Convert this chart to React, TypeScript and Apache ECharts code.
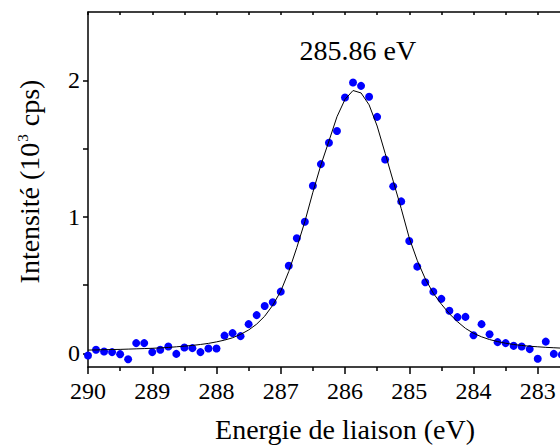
import React, { useEffect, useRef } from "react";
import * as echarts from "echarts";

const energies = [
  290, 289.875, 289.75, 289.625, 289.5, 289.375, 289.25, 289.125, 289, 288.875,
  288.75, 288.625, 288.5, 288.375, 288.25, 288.125, 288, 287.875, 287.75, 287.625,
  287.5, 287.375, 287.25, 287.125, 287, 286.875, 286.75, 286.625, 286.5, 286.375,
  286.25, 286.125, 286, 285.875, 285.75, 285.625, 285.5, 285.375, 285.25, 285.125,
  285, 284.875, 284.75, 284.625, 284.5, 284.375, 284.25, 284.125, 284, 283.875,
  283.75, 283.625, 283.5, 283.375, 283.25, 283.125, 283, 282.875, 282.75, 282.625,
];

const measured = [
  -0.016, 0.026, 0.013, 0.009, -0.006, -0.043, 0.075, 0.075, 0.009, 0.026,
  0.05, -0.004, 0.043, 0.038, 0.009, 0.035, 0.035, 0.13, 0.148, 0.126,
  0.214, 0.28, 0.347, 0.374, 0.452, 0.642, 0.843, 0.964, 1.228, 1.386,
  1.542, 1.628, 1.874, 1.984, 1.959, 1.879, 1.732, 1.42, 1.223, 1.113,
  0.823, 0.635, 0.521, 0.452, 0.399, 0.312, 0.265, 0.267, 0.133, 0.214,
  0.14, 0.082, 0.075, 0.055, 0.05, 0.031, -0.04, 0.086, -0.004, -0.01,
];

const fitted = [
  0.024, 0.025, 0.027, 0.028, 0.029, 0.031, 0.033, 0.035, 0.037, 0.04,
  0.043, 0.048, 0.053, 0.058, 0.065, 0.073, 0.084, 0.097, 0.114, 0.139,
  0.171, 0.214, 0.272, 0.352, 0.455, 0.6, 0.775, 0.965, 1.18, 1.38,
  1.555, 1.733, 1.86, 1.925, 1.907, 1.82, 1.665, 1.465, 1.262, 1.06,
  0.845, 0.68, 0.545, 0.44, 0.36, 0.29, 0.232, 0.183, 0.147, 0.121,
  0.101, 0.086, 0.074, 0.065, 0.058, 0.052, 0.048, 0.044, 0.041, 0.038,
];

const hiddenXLabel = 282;
const yLabelValues = [0, 1, 2];
const yTickValues = [0, 0.5, 1, 1.5, 2];
const peakLabel = "285.86 eV";
const peakLabelPos = [285.8, 2.22];

const FONT = "Liberation Serif";

export default function App() {
  const ref = useRef<HTMLDivElement>(null);
  useEffect(() => {
    document.body.style.margin = "0";
    if (!ref.current) return;
    const chart = echarts.init(ref.current, undefined, { renderer: "svg" });
    const axisLineStyle = { color: "#000", width: 1.5 };
    chart.setOption({
      animation: false,
      backgroundColor: "#fff",
      textStyle: { fontFamily: FONT },
      grid: { left: 88, top: 12, width: 514, height: 355, outerBoundsMode: "none", containLabel: false },
      xAxis: [
        {
          type: "value",
          inverse: true,
          min: 282,
          max: 290,
          interval: 1,
          position: "bottom",
          axisLine: { show: true, onZero: false, lineStyle: axisLineStyle },
          axisTick: { show: true, inside: false, length: 7, lineStyle: { color: "#000", width: 1.5 } },
          minorTick: { show: true, splitNumber: 2, length: 4, lineStyle: { color: "#000", width: 1.5 } },
          splitLine: { show: false },
          axisLabel: {
            color: "#000",
            fontFamily: FONT,
            fontSize: 24,
            margin: 12,
            formatter: (v: number) => (v === hiddenXLabel ? "" : String(v)),
          },
          name: "Energie de liaison (eV)",
          nameLocation: "middle",
          nameGap: 48,
          nameTextStyle: { color: "#000", fontFamily: FONT, fontSize: 28 },
        },
        {
          type: "value",
          inverse: true,
          min: 282,
          max: 290,
          interval: 0.5,
          position: "top",
          axisLine: { show: true, onZero: false, lineStyle: axisLineStyle },
          axisTick: { show: true, inside: true, length: 3, lineStyle: axisLineStyle },
          axisLabel: { show: false },
          splitLine: { show: false },
        },
      ],
      yAxis: {
        type: "value",
        min: -0.1,
        max: 2.5,
        axisLine: { show: true, onZero: false, lineStyle: axisLineStyle },
        axisTick: { show: true, inside: false, length: 5, customValues: yTickValues, lineStyle: axisLineStyle },
        axisLabel: { color: "#000", fontFamily: FONT, fontSize: 24, margin: 8, customValues: yLabelValues },
        splitLine: { show: false },
        name: "{a|Intensité (10}{s|3}{a| cps)}",
        nameLocation: "middle",
        nameRotate: 90,
        nameGap: 44,
        nameTextStyle: {
          color: "#000",
          fontFamily: FONT,
          fontSize: 28,
          padding: [0, 0, 0, 16],
          rich: {
            a: { fontFamily: FONT, fontSize: 28, color: "#000" },
            s: { fontFamily: FONT, fontSize: 15, color: "#000", verticalAlign: "top", padding: [0, 1, 14, 1] },
          },
        },
      },
      series: [
        {
          type: "scatter",
          data: energies.map((e, i) => [e, measured[i]]),
          symbol: "circle",
          symbolSize: 8,
          itemStyle: { color: "#0000ff", opacity: 1 },
          z: 3,
        },
        {
          type: "line",
          data: energies.map((e, i) => [e, fitted[i]]),
          showSymbol: false,
          symbol: "none",
          lineStyle: { color: "#000", width: 1 },
          z: 4,
          markPoint: {
            symbol: "circle",
            symbolSize: 1,
            itemStyle: { color: "rgba(0,0,0,0)" },
            label: {
              show: true,
              position: "inside",
              formatter: peakLabel,
              color: "#000",
              fontFamily: FONT,
              fontSize: 28,
            },
            data: [{ coord: peakLabelPos }],
          },
        },
      ],
    });
    return () => chart.dispose();
  }, []);
  return <div ref={ref} style={{ width: 560, height: 445 }} />;
}
